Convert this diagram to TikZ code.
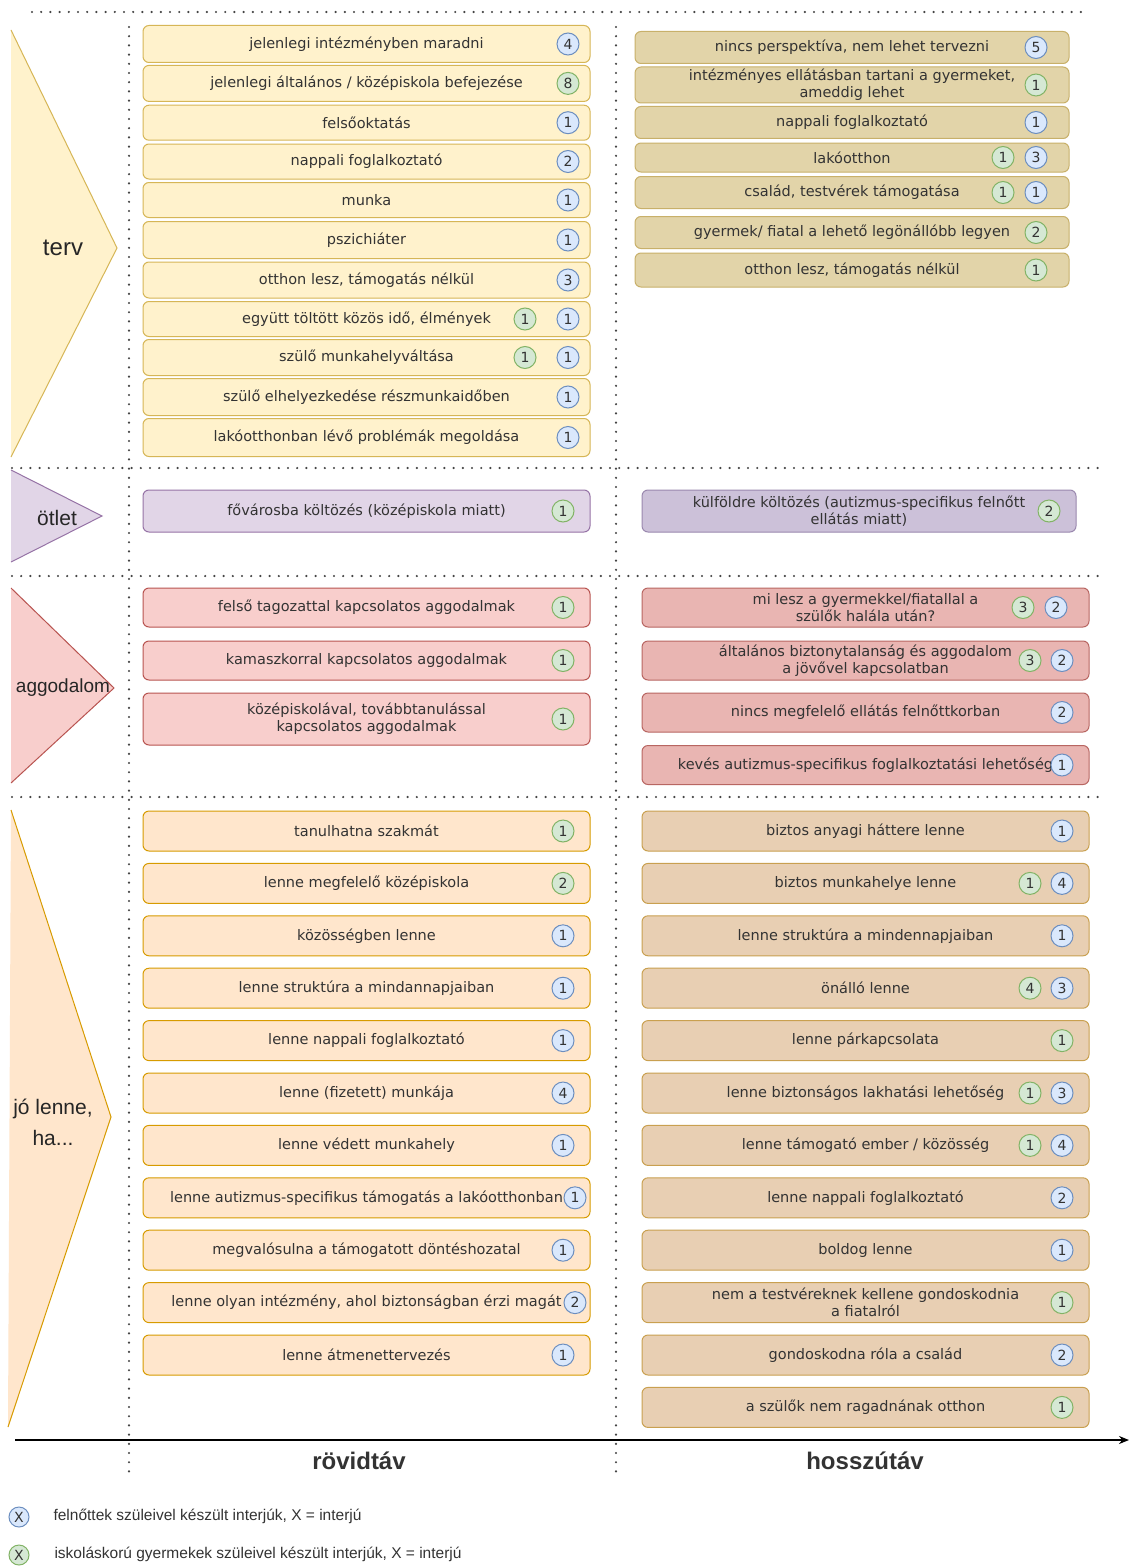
\documentclass[tikz,border=0pt]{standalone}
\usepackage{fontspec}
\setmainfont{Liberation Sans}
\newfontfamily\boxfont{DejaVu Sans}
\usetikzlibrary{arrows.meta}

\definecolor{yelF}{HTML}{FFF2CC}\definecolor{yelD}{HTML}{D6B656}
\definecolor{yelF2}{HTML}{E2D4A9}\definecolor{yelD2}{HTML}{C8B06A}
\definecolor{purF}{HTML}{E1D5E7}\definecolor{purD}{HTML}{9673A6}
\definecolor{purF2}{HTML}{CCC1D9}\definecolor{purD2}{HTML}{9A88AE}
\definecolor{redF}{HTML}{F8CECC}\definecolor{redD}{HTML}{B85450}
\definecolor{redF2}{HTML}{E9B5B2}\definecolor{redD2}{HTML}{B86662}
\definecolor{orgF}{HTML}{FFE6CC}\definecolor{orgD}{HTML}{D79B00}
\definecolor{orgF2}{HTML}{E8CFB3}\definecolor{orgD2}{HTML}{C9A050}
\definecolor{bluF}{HTML}{DAE8FC}\definecolor{bluD}{HTML}{6C8EBF}
\definecolor{grnF}{HTML}{D5E8D4}\definecolor{grnD}{HTML}{82B366}
\definecolor{ink}{HTML}{333333}
\definecolor{dotc}{HTML}{444444}

\tikzset{
  card/.style={draw, rounded corners=6pt, line width=1pt, inner sep=0pt,
               font=\boxfont\fontsize{14.5}{17}\selectfont, text=ink, align=center},
  terL/.style={card, fill=yelF, draw=yelD},
  terR/.style={card, fill=yelF2, draw=yelD2},
  otL/.style={card, fill=purF, draw=purD},
  otR/.style={card, fill=purF2, draw=purD2},
  agL/.style={card, fill=redF, draw=redD},
  agR/.style={card, fill=redF2, draw=redD2},
  joL/.style={card, fill=orgF, draw=orgD},
  joR/.style={card, fill=orgF2, draw=orgD2},
  num/.style={circle, minimum size=22pt, inner sep=0pt, line width=1pt,
              font=\boxfont\fontsize{14}{14}\selectfont, text=ink},
  bn/.style={num, fill=bluF, draw=bluD},
  gn/.style={num, fill=grnF, draw=grnD},
  sepline/.style={line width=2.4pt, dotc, line cap=round, dash pattern=on 0pt off 9.2pt},
  wedge/.style={line width=1pt, line join=miter},
  cat/.style={font=\fontsize{21}{31}\selectfont, align=center, text=black!85},
  period/.style={font=\bfseries\fontsize{24}{28}\selectfont, text=ink},
  legend/.style={font=\fontsize{15.5}{18}\selectfont, text=ink, anchor=west}
}

% card: name, style, left x, right x, centre y, height, text
\newcommand\card[7]{%
  \node[#2, minimum width={(#4)-(#3)}, minimum height=#6] (#1) at ({((#3)+(#4))/2},#5) {#7};}

\begin{document}
\begin{tikzpicture}[x=1pt,y=-1pt]
\useasboundingbox[fill=white] (0,0) rectangle (1134,1568);

% ---------- category wedges ----------
\draw[wedge, fill=yelF, draw=yelD] (11,30) -- (117,248) -- (11,457);
\draw[wedge, fill=purF, draw=purD] (11,470) -- (102,516) -- (11,562);
\draw[wedge, fill=redF, draw=redD] (11,588) -- (114,688) -- (11,783);
\draw[wedge, fill=orgF, draw=orgD] (11,810) -- (111,1117) -- (8,1427);
\node[cat, font=\fontsize{24}{28}\selectfont] (cterv) at (63,248) {terv};
\node[cat] (cotlet) at (57,518) {ötlet};
\node[cat, font=\fontsize{19}{24}\selectfont] (caggod) at (63,688) {aggodalom};
\node[cat] (cjo) at (53,1122) {jó lenne,\\ha...};

% ---------- grid of dotted separators ----------
\coordinate (t0) at (32,12);   \coordinate (t1) at (1082,12);
\coordinate (h1a) at (12,468);  \coordinate (h1b) at (1102,468);
\coordinate (h2a) at (12,576);  \coordinate (h2b) at (1102,576);
\coordinate (h3a) at (12,797);  \coordinate (h3b) at (1102,797);
\coordinate (v1a) at (129,27); \coordinate (v1b) at (129,1472);
\coordinate (v2a) at (616,27); \coordinate (v2b) at (616,1472);
\draw[sepline] (t0) -- (t1);
\draw[sepline] (h1a) -- (h1b);
\draw[sepline] (h2a) -- (h2b);
\draw[sepline] (h3a) -- (h3b);
\draw[sepline] (v1a) -- (v1b);
\draw[sepline] (v2a) -- (v2b);

% ---------- terv : short term ----------
\card{ta1}{terL}{143}{590}{44}{37}{jelenlegi intézményben maradni}
\node[bn] (ta1b) at (568,44) {4};
\card{ta2}{terL}{143}{590}{83.4}{36}{jelenlegi általános / középiskola befejezése}
\node[gn] (ta2g) at (568,83.4) {8};
\card{ta3}{terL}{143}{590}{122.7}{35}{felsőoktatás}
\node[bn] (ta3b) at (568,122.7) {1};
\card{ta4}{terL}{143}{590}{161.5}{35}{nappali foglalkoztató}
\node[bn] (ta4b) at (568,161.5) {2};
\card{ta5}{terL}{143}{590}{200}{35}{munka}
\node[bn] (ta5b) at (568,200) {1};
\card{ta6}{terL}{143}{590}{240}{37}{pszichiáter}
\node[bn] (ta6b) at (568,240) {1};
\card{ta7}{terL}{143}{590}{280}{36}{otthon lesz, támogatás nélkül}
\node[bn] (ta7b) at (568,280) {3};
\card{ta8}{terL}{143}{590}{319}{35}{együtt töltött közös idő, élmények}
\node[gn] (ta8g) at (525,319) {1};
\node[bn] (ta8b) at (568,319) {1};
\card{ta9}{terL}{143}{590}{357.5}{36}{szülő munkahelyváltása}
\node[gn] (ta9g) at (525,357.5) {1};
\node[bn] (ta9b) at (568,357.5) {1};
\card{ta10}{terL}{143}{590}{397}{37}{szülő elhelyezkedése részmunkaidőben}
\node[bn] (ta10b) at (568,397) {1};
\card{ta11}{terL}{143}{590}{437.5}{38}{lakóotthonban lévő problémák megoldása}
\node[bn] (ta11b) at (568,437.5) {1};

% ---------- terv : long term ----------
\card{tb1}{terR}{635}{1069}{47.5}{32}{nincs perspektíva, nem lehet tervezni}
\node[bn] (tb1b) at (1036,47.5) {5};
\card{tb2}{terR}{635}{1069}{85}{36}{intézményes ellátásban tartani a gyermeket,\\ameddig lehet}
\node[gn] (tb2g) at (1036,85) {1};
\card{tb3}{terR}{635}{1069}{122.5}{32}{nappali foglalkoztató}
\node[bn] (tb3b) at (1036,122.5) {1};
\card{tb4}{terR}{635}{1069}{157.5}{29}{lakóotthon}
\node[gn] (tb4g) at (1003,157.5) {1};
\node[bn] (tb4b) at (1036,157.5) {3};
\card{tb5}{terR}{635}{1069}{192.5}{32}{család, testvérek támogatása}
\node[gn] (tb5g) at (1003,192.5) {1};
\node[bn] (tb5b) at (1036,192.5) {1};
\card{tb6}{terR}{635}{1069}{232.5}{32}{gyermek/ fiatal a lehető legönállóbb legyen}
\node[gn] (tb6g) at (1036,232.5) {2};
\card{tb7}{terR}{635}{1069}{270}{34}{otthon lesz, támogatás nélkül}
\node[gn] (tb7g) at (1036,270) {1};

% ---------- ötlet ----------
\card{oa1}{otL}{143}{590}{511}{42}{fővárosba költözés (középiskola miatt)}
\node[gn] (oa1g) at (563,511) {1};
\card{ob1}{otR}{642}{1076}{511}{42}{külföldre költözés (autizmus-specifikus felnőtt\\ellátás miatt)}
\node[gn] (ob1g) at (1049,511) {2};

% ---------- aggodalom : short term ----------
\card{aa1}{agL}{143}{590}{607.5}{39}{felső tagozattal kapcsolatos aggodalmak}
\node[gn] (aa1g) at (563,607.5) {1};
\card{aa2}{agL}{143}{590}{660.5}{39}{kamaszkorral kapcsolatos aggodalmak}
\node[gn] (aa2g) at (563,660.5) {1};
\card{aa3}{agL}{143}{590}{719}{52}{középiskolával, továbbtanulással\\kapcsolatos aggodalmak}
\node[gn] (aa3g) at (563,719) {1};

% ---------- aggodalom : long term ----------
\card{ab1}{agR}{642}{1089}{607.5}{39}{mi lesz a gyermekkel/fiatallal a\\szülők halála után?}
\node[gn] (ab1g) at (1023,607.5) {3};
\node[bn] (ab1b) at (1056,607.5) {2};
\card{ab2}{agR}{642}{1089}{660.5}{39}{általános biztonytalanság és aggodalom\\a jövővel kapcsolatban}
\node[gn] (ab2g) at (1030,660.5) {3};
\node[bn] (ab2b) at (1062,660.5) {2};
\card{ab3}{agR}{642}{1089}{712.5}{39}{nincs megfelelő ellátás felnőttkorban}
\node[bn] (ab3b) at (1062,712.5) {2};
\card{ab4}{agR}{642}{1089}{765}{39}{kevés autizmus-specifikus foglalkoztatási lehetőség}
\node[bn] (ab4b) at (1062,765) {1};

% ---------- jó lenne, ha... : short term ----------
\card{ja1}{joL}{143}{590}{831}{40}{tanulhatna szakmát}
\node[gn] (ja1g) at (563,831) {1};
\card{ja2}{joL}{143}{590}{883.4}{40}{lenne megfelelő középiskola}
\node[gn] (ja2g) at (563,883.4) {2};
\card{ja3}{joL}{143}{590}{935.8}{40}{közösségben lenne}
\node[bn] (ja3b) at (563,935.8) {1};
\card{ja4}{joL}{143}{590}{988.2}{40}{lenne struktúra a mindannapjaiban}
\node[bn] (ja4b) at (563,988.2) {1};
\card{ja5}{joL}{143}{590}{1040.6}{40}{lenne nappali foglalkoztató}
\node[bn] (ja5b) at (563,1040.6) {1};
\card{ja6}{joL}{143}{590}{1093}{40}{lenne (fizetett) munkája}
\node[bn] (ja6b) at (563,1093) {4};
\card{ja7}{joL}{143}{590}{1145.4}{40}{lenne védett munkahely}
\node[bn] (ja7b) at (563,1145.4) {1};
\card{ja8}{joL}{143}{590}{1197.8}{40}{lenne autizmus-specifikus támogatás a lakóotthonban}
\node[bn] (ja8b) at (575,1197.8) {1};
\card{ja9}{joL}{143}{590}{1250.2}{40}{megvalósulna a támogatott döntéshozatal}
\node[bn] (ja9b) at (563,1250.2) {1};
\card{ja10}{joL}{143}{590}{1302.6}{40}{lenne olyan intézmény, ahol biztonságban érzi magát}
\node[bn] (ja10b) at (575,1302.6) {2};
\card{ja11}{joL}{143}{590}{1355}{40}{lenne átmenettervezés}
\node[bn] (ja11b) at (563,1355) {1};

% ---------- jó lenne, ha... : long term ----------
\card{jb1}{joR}{642}{1089}{831}{40}{biztos anyagi háttere lenne}
\node[bn] (jb1b) at (1062,831) {1};
\card{jb2}{joR}{642}{1089}{883.4}{40}{biztos munkahelye lenne}
\node[gn] (jb2g) at (1030,883.4) {1};
\node[bn] (jb2b) at (1062,883.4) {4};
\card{jb3}{joR}{642}{1089}{935.8}{40}{lenne struktúra a mindennapjaiban}
\node[bn] (jb3b) at (1062,935.8) {1};
\card{jb4}{joR}{642}{1089}{988.2}{40}{önálló lenne}
\node[gn] (jb4g) at (1030,988.2) {4};
\node[bn] (jb4b) at (1062,988.2) {3};
\card{jb5}{joR}{642}{1089}{1040.6}{40}{lenne párkapcsolata}
\node[gn] (jb5g) at (1062,1040.6) {1};
\card{jb6}{joR}{642}{1089}{1093}{40}{lenne biztonságos lakhatási lehetőség}
\node[gn] (jb6g) at (1030,1093) {1};
\node[bn] (jb6b) at (1062,1093) {3};
\card{jb7}{joR}{642}{1089}{1145.4}{40}{lenne támogató ember / közösség}
\node[gn] (jb7g) at (1030,1145.4) {1};
\node[bn] (jb7b) at (1062,1145.4) {4};
\card{jb8}{joR}{642}{1089}{1197.8}{40}{lenne nappali foglalkoztató}
\node[bn] (jb8b) at (1062,1197.8) {2};
\card{jb9}{joR}{642}{1089}{1250.2}{40}{boldog lenne}
\node[bn] (jb9b) at (1062,1250.2) {1};
\card{jb10}{joR}{642}{1089}{1302.6}{40}{nem a testvéreknek kellene gondoskodnia\\a fiatalról}
\node[gn] (jb10g) at (1062,1302.6) {1};
\card{jb11}{joR}{642}{1089}{1355}{40}{gondoskodna róla a család}
\node[bn] (jb11b) at (1062,1355) {2};
\card{jb12}{joR}{642}{1089}{1407.4}{40}{a szülők nem ragadnának otthon}
\node[gn] (jb12g) at (1062,1407.4) {1};

% ---------- time axis ----------
\coordinate (ax0) at (15,1440);
\coordinate (ax1) at (1129,1440);
\draw[line width=1.6pt, -{Stealth[length=10pt,width=8pt]}] (ax0) -- (ax1);
\node[period] (short) at (359,1461) {rövidtáv};
\node[period] (long) at (865,1461) {hosszútáv};

% ---------- legend ----------
\node[bn, minimum size=20pt] (legb) at (19,1517) {X};
\node[legend] (legbt) at (50,1516) {felnőttek szüleivel készült interjúk, X = interjú};
\node[gn, minimum size=20pt] (legg) at (19,1555) {X};
\node[legend] (leggt) at (51,1554) {iskoláskorú gyermekek szüleivel készült interjúk, X = interjú};
\end{tikzpicture}
\end{document}
